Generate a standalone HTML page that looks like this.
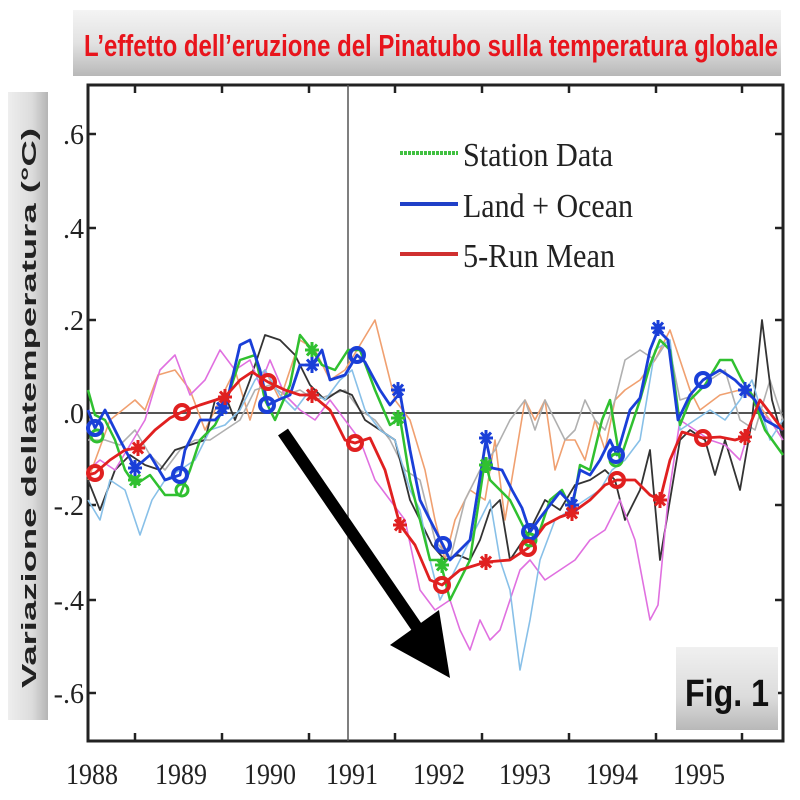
<!DOCTYPE html>
<html><head><meta charset="utf-8"><style>
html,body{margin:0;padding:0;background:#fff;}
svg{display:block;}
</style></head><body>
<svg width="800" height="800" viewBox="0 0 800 800" xmlns="http://www.w3.org/2000/svg">
<defs>
<linearGradient id="tg" x1="0" y1="0" x2="0" y2="1">
<stop offset="0" stop-color="#f4f4f4"/><stop offset="0.5" stop-color="#e2e2e2"/><stop offset="1" stop-color="#b8b8b8"/>
</linearGradient>
<linearGradient id="yg" x1="0" y1="0" x2="1" y2="0">
<stop offset="0" stop-color="#eeeeee"/><stop offset="0.6" stop-color="#dcdcdc"/><stop offset="1" stop-color="#b5b5b5"/>
</linearGradient>
<linearGradient id="fg" x1="0" y1="0" x2="0" y2="1">
<stop offset="0" stop-color="#f0f0f0"/><stop offset="0.6" stop-color="#dcdcdc"/><stop offset="1" stop-color="#b8b8b8"/>
</linearGradient>
<g id="ast"><path d="M-7,0H7M0,-8V8M-5,-5.5L5,5.5M-5,5.5L5,-5.5" stroke-width="3"/></g>
</defs>
<rect x="73" y="10" width="708" height="66" fill="url(#tg)"/>
<text x="84" y="56" font-family="Liberation Sans, sans-serif" font-weight="bold" font-size="31" fill="#e8141c" textLength="694" lengthAdjust="spacingAndGlyphs">L’effetto dell’eruzione del Pinatubo sulla temperatura globale</text>
<rect x="8" y="92" width="40" height="628" fill="url(#yg)"/>
<text transform="translate(36,408) rotate(-90)" text-anchor="middle" font-family="Liberation Sans, sans-serif" font-weight="bold" font-size="20" fill="#222" textLength="560" lengthAdjust="spacingAndGlyphs">Variazione dellatemperatura (°C)</text>

<rect x="88" y="85" width="695" height="656" fill="none" stroke="#222" stroke-width="3"/>
<line x1="88" y1="413" x2="783" y2="413" stroke="#555" stroke-width="2"/>
<line x1="348" y1="85" x2="348" y2="741" stroke="#555" stroke-width="1.5"/>
<g stroke="#222" stroke-width="2.5">
<path d="M135,85v8M222,85v8M309,85v8M395,85v8M482,85v8M569,85v8M656,85v8M742,85v8"/>
<path d="M135,741v-8M222,741v-8M309,741v-8M395,741v-8M482,741v-8M569,741v-8M656,741v-8M742,741v-8"/>
<path d="M88,134h8M88,228h8M88,320h8M88,505h8M88,600h8M88,693h8"/>
<path d="M783,134h-8M783,228h-8M783,320h-8M783,505h-8M783,600h-8M783,693h-8"/>
</g>
<g font-family="Liberation Serif, serif" font-size="28" fill="#222" text-anchor="end">
<text x="84" y="144">.6</text><text x="84" y="238">.4</text><text x="84" y="330">.2</text><text x="84" y="423">.0</text>
<text x="84" y="515">-.2</text><text x="84" y="610">-.4</text><text x="84" y="703">-.6</text>
</g>
<g font-family="Liberation Serif, serif" font-size="30" fill="#222" text-anchor="middle">
<text x="92" y="784" textLength="52" lengthAdjust="spacingAndGlyphs">1988</text><text x="181" y="784" textLength="52" lengthAdjust="spacingAndGlyphs">1989</text><text x="270" y="784" textLength="52" lengthAdjust="spacingAndGlyphs">1990</text><text x="352" y="784" textLength="52" lengthAdjust="spacingAndGlyphs">1991</text>
<text x="439" y="784" textLength="52" lengthAdjust="spacingAndGlyphs">1992</text><text x="525" y="784" textLength="52" lengthAdjust="spacingAndGlyphs">1993</text><text x="612" y="784" textLength="52" lengthAdjust="spacingAndGlyphs">1994</text><text x="699" y="784" textLength="52" lengthAdjust="spacingAndGlyphs">1995</text>
</g>

<g fill="none" stroke-width="1.6" stroke-linejoin="round">
<polyline stroke="#f0a070" points="88,480 110,420 135,400 145,410 158,375 175,370 190,390 205,430 220,400 235,370 250,420 265,370 280,400 300,340 315,350 330,380 345,370 360,345 375,320 385,360 395,400 410,420 425,470 435,520 445,560 455,520 470,490 485,500 495,440 505,520 515,460 525,400 535,420 545,400 555,470 565,440 575,440 585,460 595,420 605,450 615,400 625,390 640,380 655,360 670,330 680,360 690,390 700,410 720,395 740,390 755,400 770,420 783,440"/>
<polyline stroke="#b0b0b0" points="88,440 105,440 120,445 135,430 150,455 165,470 180,450 195,440 210,440 225,430 240,420 255,390 270,385 285,395 300,390 315,400 330,395 345,390 360,410 375,420 390,440 405,470 420,480 435,540 450,560 465,500 480,470 495,450 510,420 525,400 535,430 545,400 555,420 565,440 575,430 585,400 595,420 605,430 615,400 625,360 640,350 655,360 668,340 680,400 695,395 710,380 725,370 740,420 755,430 770,380 783,420"/>
<polyline stroke="#333" stroke-width="1.8" points="88,480 100,510 115,470 130,455 145,465 160,470 175,450 190,445 205,440 215,400 225,395 235,420 250,380 265,335 280,340 295,355 310,385 325,400 340,390 352,395 365,420 380,430 395,440 410,500 420,520 432,545 445,560 458,555 470,560 480,540 490,510 500,500 510,560 520,545 530,530 545,500 560,510 575,485 590,480 605,470 615,480 625,520 640,490 650,450 660,560 670,500 680,440 690,430 705,440 715,475 725,440 740,490 752,420 762,320 772,400 783,440"/>
<polyline stroke="#e070e0" points="88,470 100,460 115,470 130,445 145,420 160,370 175,355 190,395 205,380 220,350 235,370 250,360 260,385 270,360 285,395 300,410 315,420 330,400 345,420 360,440 375,480 390,500 405,520 420,590 435,610 450,600 460,630 470,650 480,620 490,640 500,630 510,600 520,570 530,560 545,580 560,570 575,560 590,540 605,530 620,500 635,540 650,620 658,605 668,500 680,420 695,430 710,440 725,445 740,460 755,410 770,420 783,440"/>
<polyline stroke="#88c0e8" points="88,500 100,520 110,480 125,490 140,535 152,500 165,480 180,470 195,460 210,430 225,425 240,410 255,380 265,370 280,395 295,410 310,390 325,400 340,380 352,370 365,410 380,430 395,440 410,490 420,510 430,560 440,600 450,580 460,560 470,540 480,520 490,500 500,560 510,590 520,670 530,620 540,560 555,520 570,510 585,500 600,490 612,470 625,460 640,440 655,350 670,340 680,430 695,420 710,410 725,420 740,400 752,380 770,440 783,420"/>
</g>

<polyline fill="none" stroke="#30c030" stroke-width="2.5" stroke-linejoin="round" points="88,390 95,415 105,420 115,440 125,470 135,485 150,475 165,495 180,495 190,470 200,440 215,425 225,405 240,360 255,355 265,400 275,420 290,385 300,335 312,350 322,365 335,370 348,350 360,350 375,390 390,425 400,418 410,480 420,520 430,560 440,560 450,600 460,580 470,560 485,460 490,480 500,490 510,500 520,520 530,540 540,530 550,500 562,490 572,510 580,465 590,470 602,420 610,400 620,460 630,430 640,400 650,365 660,340 670,350 680,425 690,400 705,385 720,360 732,360 742,380 752,395 765,430 783,455"/>
<polyline fill="none" stroke="#1a3fd8" stroke-width="2.8" stroke-linejoin="round" points="88,410 95,428 105,410 120,440 135,468 150,455 165,480 180,475 185,450 200,420 215,420 225,410 240,345 250,340 260,370 268,405 278,400 290,395 300,365 312,365 322,350 330,380 345,375 357,355 365,362 380,390 390,405 400,393 410,450 420,500 430,520 443,545 450,560 470,540 486,440 492,468 502,470 512,490 522,508 530,532 540,518 550,505 560,492 572,505 580,470 590,475 600,460 610,440 617,455 630,410 640,398 650,350 658,330 668,340 678,420 690,395 703,380 720,370 735,380 745,390 755,400 765,420 783,430"/>
<polyline fill="none" stroke="#e02020" stroke-width="2.8" stroke-linejoin="round" points="88,475 95,473 110,460 125,450 138,448 155,430 170,418 182,412 200,405 225,397 240,380 252,372 268,382 285,390 300,395 312,395 330,410 345,440 355,443 370,438 385,470 400,525 415,545 430,580 442,585 460,570 486,562 510,560 528,548 545,525 560,517 572,513 590,500 605,485 617,480 635,480 650,495 660,500 670,460 682,432 703,438 720,437 735,440 745,437 760,400 783,430"/>

<g fill="none" stroke="#30c030" stroke-width="3">
<circle cx="97" cy="436" r="6"/><circle cx="182" cy="490" r="6"/><circle cx="530" cy="540" r="6"/><circle cx="616" cy="460" r="6"/>
</g>
<g stroke="#30c030">
<use href="#ast" x="135" y="480"/><use href="#ast" x="312" y="350"/><use href="#ast" x="398" y="418"/><use href="#ast" x="486" y="465"/><use href="#ast" x="442" y="565"/>
</g>
<g fill="none" stroke="#1a3fd8" stroke-width="4">
<circle cx="95" cy="428" r="7"/><circle cx="180" cy="475" r="7"/><circle cx="267" cy="405" r="7"/><circle cx="357" cy="355" r="7"/>
<circle cx="443" cy="545" r="7"/><circle cx="530" cy="532" r="7"/><circle cx="616" cy="455" r="7"/><circle cx="703" cy="380" r="7"/>
</g>
<g stroke="#1a3fd8">
<use href="#ast" x="135" y="468"/><use href="#ast" x="222" y="408"/><use href="#ast" x="312" y="365"/><use href="#ast" x="398" y="390"/>
<use href="#ast" x="486" y="438"/><use href="#ast" x="572" y="505"/><use href="#ast" x="658" y="328"/><use href="#ast" x="745" y="390"/>
</g>
<g fill="none" stroke="#e02020" stroke-width="4">
<circle cx="95" cy="473" r="7"/><circle cx="182" cy="412" r="7"/><circle cx="268" cy="382" r="7"/><circle cx="355" cy="443" r="7"/>
<circle cx="442" cy="585" r="7"/><circle cx="528" cy="548" r="7"/><circle cx="617" cy="480" r="7"/><circle cx="703" cy="438" r="7"/>
</g>
<g stroke="#e02020">
<use href="#ast" x="138" y="448"/><use href="#ast" x="225" y="397"/><use href="#ast" x="312" y="395"/><use href="#ast" x="400" y="525"/>
<use href="#ast" x="486" y="562"/><use href="#ast" x="572" y="513"/><use href="#ast" x="660" y="500"/><use href="#ast" x="745" y="437"/>
</g>

<line x1="283" y1="432" x2="420" y2="632" stroke="#000" stroke-width="12"/>
<polygon points="390,645 450,678 439,610" fill="#000"/>

<g stroke-width="4">
<line x1="400" y1="153" x2="458" y2="153" stroke="#40c040" stroke-dasharray="3,1"/>
<line x1="400" y1="204" x2="458" y2="204" stroke="#2040c8"/>
<line x1="400" y1="254" x2="458" y2="254" stroke="#d03030"/>
</g>
<g font-family="Liberation Serif, serif" font-size="34" fill="#222">
<text x="463" y="166" textLength="150" lengthAdjust="spacingAndGlyphs">Station Data</text>
<text x="463" y="217" textLength="170" lengthAdjust="spacingAndGlyphs">Land + Ocean</text>
<text x="463" y="267" textLength="152" lengthAdjust="spacingAndGlyphs">5-Run Mean</text>
</g>

<rect x="676" y="647" width="102" height="83" fill="url(#fg)"/>
<text x="727" y="706" text-anchor="middle" font-family="Liberation Sans, sans-serif" font-weight="bold" font-size="38" fill="#111" textLength="84" lengthAdjust="spacingAndGlyphs">Fig. 1</text>
</svg>
</body></html>
